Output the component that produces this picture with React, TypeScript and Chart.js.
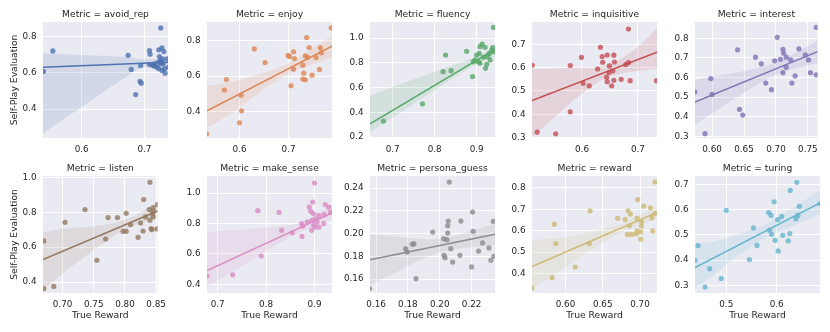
import React, { useEffect, useRef } from "react";
import { Chart, registerables } from "chart.js";

Chart.register(...registerables);

const FONT = '"DejaVu Sans", "Liberation Sans", sans-serif';
const TEXT = "#262626";
const PLOT_BG = "#EAEAF2";

// ---------- panel names and colours ----------
const metricNames = ["avoid_rep", "enjoy", "fluency", "inquisitive", "interest", "listen", "make_sense", "persona_guess", "reward", "turing"];
const metricColors = ["#4C72B0", "#DD8452", "#55A868", "#C44E52", "#8172B3", "#937860", "#DA8BC3", "#8C8C8C", "#CCB974", "#64B5CD"];

// ---------- avoid_rep ----------
const avoidRepX = [0.539, 0.554, 0.674, 0.679, 0.694, 0.693, 0.695, 0.686, 0.726, 0.708, 0.709, 0.723, 0.728, 0.731, 0.724, 0.708, 0.713, 0.716, 0.720, 0.723, 0.726, 0.729, 0.730, 0.732, 0.733, 0.736, 0.738, 0.726, 0.722, 0.728, 0.716];
const avoidRepY = [0.608, 0.721, 0.697, 0.619, 0.641, 0.553, 0.543, 0.480, 0.848, 0.723, 0.703, 0.727, 0.738, 0.718, 0.690, 0.646, 0.641, 0.637, 0.631, 0.623, 0.668, 0.677, 0.650, 0.623, 0.598, 0.677, 0.631, 0.650, 0.659, 0.613, 0.650];
const avoidRepRange = [0.5383, 0.7376, 0.24, 0.881];
const avoidRepLine = [0.631, 0.659];
const avoidRepBandX = [0.5383, 0.58, 0.62, 0.66, 0.70, 0.7376];
const avoidRepBandHi = [0.708, 0.702, 0.696, 0.690, 0.676, 0.676];
const avoidRepBandLo = [0.265, 0.364, 0.458, 0.553, 0.633, 0.645];
const avoidRepXTicks = [0.6, 0.7];
const avoidRepYTicks = [0.4, 0.6, 0.8];

// ---------- enjoy ----------
const enjoyX = [0.533, 0.569, 0.573, 0.603, 0.604, 0.600, 0.630, 0.652, 0.699, 0.702, 0.710, 0.712, 0.710, 0.705, 0.737, 0.742, 0.734, 0.739, 0.729, 0.731, 0.729, 0.734, 0.748, 0.756, 0.765, 0.767, 0.763, 0.787];
const enjoyY = [0.274, 0.521, 0.580, 0.492, 0.404, 0.336, 0.753, 0.676, 0.716, 0.710, 0.737, 0.699, 0.639, 0.545, 0.817, 0.761, 0.714, 0.706, 0.661, 0.616, 0.583, 0.579, 0.605, 0.704, 0.759, 0.731, 0.637, 0.872];
const enjoyRange = [0.5335, 0.7886, 0.25, 0.905];
const enjoyLine = [0.404, 0.768];
const enjoyBandX = [0.5335, 0.58, 0.63, 0.68, 0.72, 0.76, 0.7886];
const enjoyBandHi = [0.545, 0.565, 0.600, 0.647, 0.703, 0.778, 0.828];
const enjoyBandLo = [0.306, 0.385, 0.485, 0.580, 0.637, 0.676, 0.706];
const enjoyXTicks = [0.6, 0.7];
const enjoyYTicks = [0.4, 0.6, 0.8];

// ---------- fluency ----------
const fluencyX = [0.678, 0.771, 0.826, 0.820, 0.839, 0.876, 0.890, 0.892, 0.896, 0.904, 0.906, 0.908, 0.913, 0.920, 0.908, 0.916, 0.921, 0.924, 0.926, 0.932, 0.930, 0.936, 0.938, 0.940, 0.941, 0.900];
const fluencyY = [0.329, 0.469, 0.864, 0.729, 0.737, 0.894, 0.689, 0.810, 0.823, 0.810, 0.877, 0.931, 0.952, 0.926, 0.797, 0.845, 0.756, 0.789, 0.850, 0.823, 0.877, 0.904, 0.923, 1.087, 0.890, 0.864];
const fluencyRange = [0.646, 0.9436, 0.192, 1.131];
const fluencyLine = [0.307, 0.910];
const fluencyBandX = [0.646, 0.70, 0.75, 0.80, 0.85, 0.90, 0.9436];
const fluencyBandHi = [0.533, 0.606, 0.668, 0.729, 0.790, 0.852, 0.935];
const fluencyBandLo = [0.237, 0.356, 0.468, 0.579, 0.690, 0.792, 0.850];
const fluencyXTicks = [0.7, 0.8, 0.9];
const fluencyYTicks = [0.2, 0.4, 0.6, 0.8, 1.0];

// ---------- inquisitive ----------
const inquisitiveX = [0.511, 0.520, 0.553, 0.579, 0.579, 0.599, 0.602, 0.613, 0.628, 0.633, 0.636, 0.637, 0.645, 0.657, 0.658, 0.649, 0.648, 0.644, 0.645, 0.653, 0.657, 0.655, 0.670, 0.678, 0.683, 0.683, 0.686, 0.733];
const inquisitiveY = [0.610, 0.324, 0.317, 0.609, 0.411, 0.644, 0.533, 0.522, 0.594, 0.687, 0.647, 0.623, 0.654, 0.653, 0.624, 0.607, 0.579, 0.559, 0.540, 0.522, 0.546, 0.586, 0.550, 0.613, 0.621, 0.765, 0.544, 0.544];
const inquisitiveRange = [0.5107, 0.734, 0.299, 0.795];
const inquisitiveLine = [0.459, 0.666];
const inquisitiveBandX = [0.5107, 0.55, 0.59, 0.63, 0.66, 0.70, 0.734];
const inquisitiveBandHi = [0.593, 0.596, 0.600, 0.603, 0.625, 0.690, 0.768];
const inquisitiveBandLo = [0.303, 0.385, 0.470, 0.540, 0.568, 0.585, 0.594];
const inquisitiveXTicks = [0.6, 0.7];
const inquisitiveYTicks = [0.3, 0.4, 0.5, 0.6, 0.7];

// ---------- interest ----------
const interestX = [0.573, 0.589, 0.598, 0.600, 0.640, 0.643, 0.648, 0.668, 0.677, 0.684, 0.693, 0.698, 0.702, 0.707, 0.711, 0.712, 0.711, 0.716, 0.716, 0.723, 0.725, 0.730, 0.736, 0.746, 0.751, 0.754, 0.763, 0.763];
const interestY = [0.526, 0.314, 0.595, 0.514, 0.741, 0.438, 0.409, 0.704, 0.670, 0.572, 0.538, 0.685, 0.805, 0.693, 0.744, 0.724, 0.625, 0.704, 0.653, 0.690, 0.572, 0.609, 0.746, 0.715, 0.690, 0.625, 0.614, 0.856];
const interestRange = [0.5733, 0.7653, 0.292, 0.883];
const interestLine = [0.475, 0.732];
const interestBandX = [0.5733, 0.61, 0.65, 0.69, 0.72, 0.7653];
const interestBandHi = [0.588, 0.609, 0.633, 0.665, 0.707, 0.788];
const interestBandLo = [0.360, 0.439, 0.523, 0.599, 0.637, 0.673];
const interestXTicks = [0.60, 0.65, 0.70, 0.75];
const interestYTicks = [0.3, 0.4, 0.5, 0.6, 0.7, 0.8];

// ---------- listen ----------
const listenX = [0.670, 0.670, 0.686, 0.704, 0.736, 0.755, 0.769, 0.773, 0.788, 0.797, 0.802, 0.802, 0.809, 0.821, 0.825, 0.829, 0.830, 0.833, 0.839, 0.840, 0.840, 0.842, 0.843, 0.844, 0.845, 0.846, 0.845, 0.851, 0.852];
const listenY = [0.636, 0.362, 0.375, 0.743, 0.816, 0.525, 0.647, 0.770, 0.770, 0.691, 0.691, 0.795, 0.730, 0.657, 0.739, 0.693, 0.874, 0.774, 0.816, 0.973, 0.755, 0.707, 0.701, 0.793, 0.828, 0.808, 0.774, 0.705, 0.845];
const listenRange = [0.6687, 0.8524, 0.337, 1.009];
const listenLine = [0.529, 0.808];
const listenBandX = [0.6687, 0.70, 0.74, 0.78, 0.81, 0.8524];
const listenBandHi = [0.687, 0.705, 0.717, 0.738, 0.772, 0.854];
const listenBandLo = [0.352, 0.449, 0.557, 0.658, 0.716, 0.770];
const listenXTicks = [0.70, 0.75, 0.80, 0.85];
const listenYTicks = [0.4, 0.6, 0.8, 1.0];

// ---------- make_sense ----------
const makeSenseX = [0.678, 0.731, 0.783, 0.790, 0.827, 0.832, 0.854, 0.874, 0.873, 0.876, 0.885, 0.889, 0.892, 0.894, 0.896, 0.900, 0.898, 0.898, 0.901, 0.905, 0.909, 0.909, 0.919, 0.920, 0.922, 0.929, 0.933, 0.895, 0.902];
const makeSenseY = [0.454, 0.463, 0.884, 0.586, 0.873, 0.755, 0.739, 0.715, 0.799, 0.783, 0.809, 0.908, 0.880, 0.755, 0.941, 1.066, 0.864, 0.788, 0.776, 0.809, 0.776, 0.853, 0.799, 0.858, 0.924, 0.908, 0.875, 0.820, 0.831];
const makeSenseRange = [0.678, 0.936, 0.343, 1.112];
const makeSenseLine = [0.491, 0.870];
const makeSenseBandX = [0.678, 0.72, 0.77, 0.82, 0.87, 0.936];
const makeSenseBandHi = [0.743, 0.753, 0.766, 0.780, 0.803, 0.920];
const makeSenseBandLo = [0.382, 0.463, 0.556, 0.655, 0.743, 0.830];
const makeSenseXTicks = [0.7, 0.8, 0.9];
const makeSenseYTicks = [0.4, 0.6, 0.8, 1.0];

// ---------- persona_guess ----------
const personaX = [0.156, 0.1786, 0.1796, 0.1828, 0.1838, 0.1851, 0.1956, 0.2025, 0.2027, 0.2033, 0.2045, 0.2050, 0.2050, 0.2054, 0.2060, 0.2069, 0.2081, 0.2127, 0.2133, 0.2200, 0.2206, 0.2210, 0.2244, 0.2269, 0.2309, 0.2321, 0.2336, 0.2340];
const personaY = [0.1516, 0.1867, 0.1837, 0.1905, 0.1911, 0.1603, 0.2013, 0.1955, 0.1808, 0.1788, 0.1946, 0.2004, 0.2069, 0.2110, 0.2453, 0.1867, 0.1749, 0.1808, 0.2110, 0.1706, 0.2189, 0.2019, 0.1846, 0.1917, 0.1873, 0.1764, 0.2107, 0.1800];
const personaRange = [0.1562, 0.2347, 0.1477, 0.2506];
const personaLine = [0.177, 0.1993];
const personaBandX = [0.1562, 0.17, 0.185, 0.20, 0.215, 0.2347];
const personaBandHi = [0.1994, 0.1979, 0.1957, 0.1954, 0.2002, 0.2088];
const personaBandLo = [0.1546, 0.1639, 0.1747, 0.1834, 0.1872, 0.1898];
const personaXTicks = [0.16, 0.18, 0.20, 0.22];
const personaYTicks = [0.16, 0.18, 0.20, 0.22, 0.24];

// ---------- reward ----------
const rewardX = [0.555, 0.582, 0.585, 0.587, 0.613, 0.632, 0.633, 0.670, 0.680, 0.684, 0.687, 0.686, 0.683, 0.689, 0.695, 0.696, 0.697, 0.696, 0.701, 0.701, 0.702, 0.702, 0.705, 0.714, 0.716, 0.717, 0.720, 0.720];
const rewardY = [0.332, 0.380, 0.631, 0.540, 0.430, 0.541, 0.693, 0.658, 0.653, 0.693, 0.678, 0.623, 0.583, 0.583, 0.586, 0.599, 0.746, 0.658, 0.595, 0.561, 0.642, 0.622, 0.715, 0.707, 0.660, 0.599, 0.828, 0.681];
const rewardRange = [0.555, 0.7228, 0.309, 0.856];
const rewardLine = [0.433, 0.686];
const rewardBandX = [0.555, 0.59, 0.63, 0.67, 0.70, 0.7228];
const rewardBandHi = [0.557, 0.566, 0.591, 0.628, 0.673, 0.712];
const rewardBandLo = [0.332, 0.406, 0.501, 0.584, 0.629, 0.658];
const rewardXTicks = [0.60, 0.65, 0.70];
const rewardYTicks = [0.4, 0.5, 0.6, 0.7, 0.8];

// ---------- turing ----------
const turingX = [0.438, 0.444, 0.458, 0.467, 0.490, 0.500, 0.546, 0.554, 0.561, 0.584, 0.586, 0.589, 0.590, 0.595, 0.597, 0.602, 0.603, 0.610, 0.612, 0.623, 0.626, 0.627, 0.638, 0.640, 0.642, 0.645, 0.686];
const turingY = [0.399, 0.458, 0.293, 0.366, 0.327, 0.597, 0.402, 0.528, 0.458, 0.588, 0.518, 0.577, 0.502, 0.631, 0.478, 0.560, 0.436, 0.573, 0.498, 0.476, 0.505, 0.676, 0.564, 0.708, 0.577, 0.613, 0.623];
const turingRange = [0.438, 0.686, 0.2695, 0.733];
const turingLine = [0.370, 0.626];
const turingBandX = [0.438, 0.48, 0.53, 0.58, 0.63, 0.686];
const turingBandHi = [0.458, 0.476, 0.505, 0.545, 0.603, 0.679];
const turingBandLo = [0.287, 0.350, 0.425, 0.489, 0.533, 0.581];
const turingXTicks = [0.5, 0.6];
const turingYTicks = [0.3, 0.4, 0.5, 0.6, 0.7];

// ---------- assemble ----------
type PanelSpec = {
  name: string; color: string; xs: number[]; ys: number[]; range: number[];
  line: number[]; bandX: number[]; bandHi: number[]; bandLo: number[];
  xTicks: number[]; yTicks: number[]; xDec: number; yDec: number;
};

const raw: [number[], number[], number[], number[], number[], number[], number[], number[], number[], number, number][] = [
  [avoidRepX, avoidRepY, avoidRepRange, avoidRepLine, avoidRepBandX, avoidRepBandHi, avoidRepBandLo, avoidRepXTicks, avoidRepYTicks, 1, 1],
  [enjoyX, enjoyY, enjoyRange, enjoyLine, enjoyBandX, enjoyBandHi, enjoyBandLo, enjoyXTicks, enjoyYTicks, 1, 1],
  [fluencyX, fluencyY, fluencyRange, fluencyLine, fluencyBandX, fluencyBandHi, fluencyBandLo, fluencyXTicks, fluencyYTicks, 1, 1],
  [inquisitiveX, inquisitiveY, inquisitiveRange, inquisitiveLine, inquisitiveBandX, inquisitiveBandHi, inquisitiveBandLo, inquisitiveXTicks, inquisitiveYTicks, 1, 1],
  [interestX, interestY, interestRange, interestLine, interestBandX, interestBandHi, interestBandLo, interestXTicks, interestYTicks, 2, 1],
  [listenX, listenY, listenRange, listenLine, listenBandX, listenBandHi, listenBandLo, listenXTicks, listenYTicks, 2, 1],
  [makeSenseX, makeSenseY, makeSenseRange, makeSenseLine, makeSenseBandX, makeSenseBandHi, makeSenseBandLo, makeSenseXTicks, makeSenseYTicks, 1, 1],
  [personaX, personaY, personaRange, personaLine, personaBandX, personaBandHi, personaBandLo, personaXTicks, personaYTicks, 2, 2],
  [rewardX, rewardY, rewardRange, rewardLine, rewardBandX, rewardBandHi, rewardBandLo, rewardXTicks, rewardYTicks, 2, 1],
  [turingX, turingY, turingRange, turingLine, turingBandX, turingBandHi, turingBandLo, turingXTicks, turingYTicks, 1, 1],
];

const PANELS: PanelSpec[] = raw.map((r, i) => ({
  name: metricNames[i], color: metricColors[i], xs: r[0], ys: r[1], range: r[2], line: r[3],
  bandX: r[4], bandHi: r[5], bandLo: r[6], xTicks: r[7], yTicks: r[8], xDec: r[9], yDec: r[10],
}));

// ---------- layout ----------
const COL_LEFT = [43, 207, 370, 532, 695];
const Y_AXIS_W = 43;
const PLOT_W = 125;
const RIGHT_PAD = 4;
const TOP_PAD = 22;
const ROW_TOP = [0, 154];
const ROW_PLOT_H = [116, 117];
const ROW_X_AXIS_H = [22, 36];

function rgba(hex: string, a: number) {
  const n = parseInt(hex.slice(1), 16);
  return `rgba(${(n >> 16) & 255},${(n >> 8) & 255},${n & 255},${a})`;
}

const decor = {
  id: "decor",
  beforeDraw(chart: any) {
    const { ctx, chartArea: a } = chart;
    ctx.save();
    ctx.fillStyle = PLOT_BG;
    ctx.fillRect(a.left, a.top, a.right - a.left, a.bottom - a.top);
    ctx.restore();
  },
  afterDraw(chart: any, _args: any, opts: any) {
    const { ctx, chartArea: a } = chart;
    ctx.save();
    ctx.fillStyle = TEXT;
    ctx.font = `9.2px ${FONT}`;
    ctx.textAlign = "center";
    ctx.textBaseline = "middle";
    const cx = (a.left + a.right) / 2;
    ctx.fillText(opts.title, cx, a.top - 7.7);
    if (opts.xlabel) ctx.fillText(opts.xlabel, cx, a.bottom + 22.5);
    if (opts.ylabel) {
      ctx.translate(a.left - 28, (a.top + a.bottom) / 2);
      ctx.rotate(-Math.PI / 2);
      ctx.fillText(opts.ylabel, 0, 0);
    }
    ctx.restore();
  },
};

function Panel({ spec, row, col }: { spec: PanelSpec; row: number; col: number }) {
  const ref = useRef<HTMLCanvasElement>(null);
  const W = Y_AXIS_W + PLOT_W + RIGHT_PAD;
  const H = TOP_PAD + ROW_PLOT_H[row] + ROW_X_AXIS_H[row];
  useEffect(() => {
    const s = spec;
    const [xMin, xMax, yMin, yMax] = s.range;
    const pts = s.xs.map((x, i) => ({ x, y: s.ys[i] }));
    const lineData = [{ x: xMin, y: s.line[0] }, { x: xMax, y: s.line[1] }];
    const hi = s.bandX.map((x, i) => ({ x, y: s.bandHi[i] }));
    const lo = s.bandX.map((x, i) => ({ x, y: s.bandLo[i] }));
    const tickFont = { family: FONT, size: 8.8 };
    const chart = new Chart(ref.current as HTMLCanvasElement, {
      type: "scatter",
      data: {
        datasets: [
          { type: "line", data: lineData, borderColor: s.color, borderWidth: 1.5, pointRadius: 0, fill: false, tension: 0, clip: 0 } as any,
          { type: "line", data: hi, borderColor: "rgba(0,0,0,0)", borderWidth: 0, backgroundColor: rgba(s.color, 0.15), pointRadius: 0, fill: "+1", tension: 0.4, clip: 0 } as any,
          { type: "line", data: lo, borderColor: "rgba(0,0,0,0)", borderWidth: 0, pointRadius: 0, fill: false, tension: 0.4, clip: 0 } as any,
          { type: "scatter", data: pts, backgroundColor: rgba(s.color, 0.8), borderWidth: 0, pointRadius: 2.6, clip: 0 } as any,
        ],
      },
      options: {
        animation: false,
        responsive: false,
        devicePixelRatio: 1,
        events: [],
        layout: { padding: { left: 0, right: RIGHT_PAD, top: TOP_PAD, bottom: 0 } },
        plugins: {
          legend: { display: false },
          tooltip: { enabled: false },
          decor: {
            title: `Metric = ${s.name}`,
            xlabel: row === 1 ? "True Reward" : "",
            ylabel: col === 0 ? "Self-Play Evaluation" : "",
          },
        } as any,
        scales: {
          x: {
            type: "linear",
            min: xMin,
            max: xMax,
            afterBuildTicks: (sc: any) => { sc.ticks = s.xTicks.map((v) => ({ value: v })); },
            afterFit: (sc: any) => { sc.height = ROW_X_AXIS_H[row]; },
            ticks: { autoSkip: false, maxRotation: 0, minRotation: 0, padding: 6, color: TEXT, font: tickFont, callback: (v: any) => Number(v).toFixed(s.xDec) },
            grid: { color: "#ffffff", lineWidth: 1, drawTicks: false },
            border: { display: false },
          },
          y: {
            type: "linear",
            min: yMin,
            max: yMax,
            afterBuildTicks: (sc: any) => { sc.ticks = s.yTicks.map((v) => ({ value: v })); },
            afterFit: (sc: any) => { sc.width = Y_AXIS_W; },
            ticks: { autoSkip: false, padding: 6.5, color: TEXT, font: tickFont, callback: (v: any) => Number(v).toFixed(s.yDec) },
            grid: { color: "#ffffff", lineWidth: 1, drawTicks: false },
            border: { display: false },
          },
        },
      },
      plugins: [decor as any],
    });
    return () => chart.destroy();
  }, [spec, row, col]);
  return (
    <canvas
      ref={ref}
      width={W}
      height={H}
      style={{ position: "absolute", left: COL_LEFT[col] - Y_AXIS_W, top: ROW_TOP[row], width: W, height: H, display: "block" }}
    />
  );
}

export default function App() {
  return (
    <div style={{ position: "fixed", left: 0, top: 0, width: 830, height: 332, overflow: "hidden", background: "#ffffff" }}>
      {PANELS.map((p, i) => (
        <Panel key={p.name} spec={p} row={Math.floor(i / 5)} col={i % 5} />
      ))}
    </div>
  );
}
